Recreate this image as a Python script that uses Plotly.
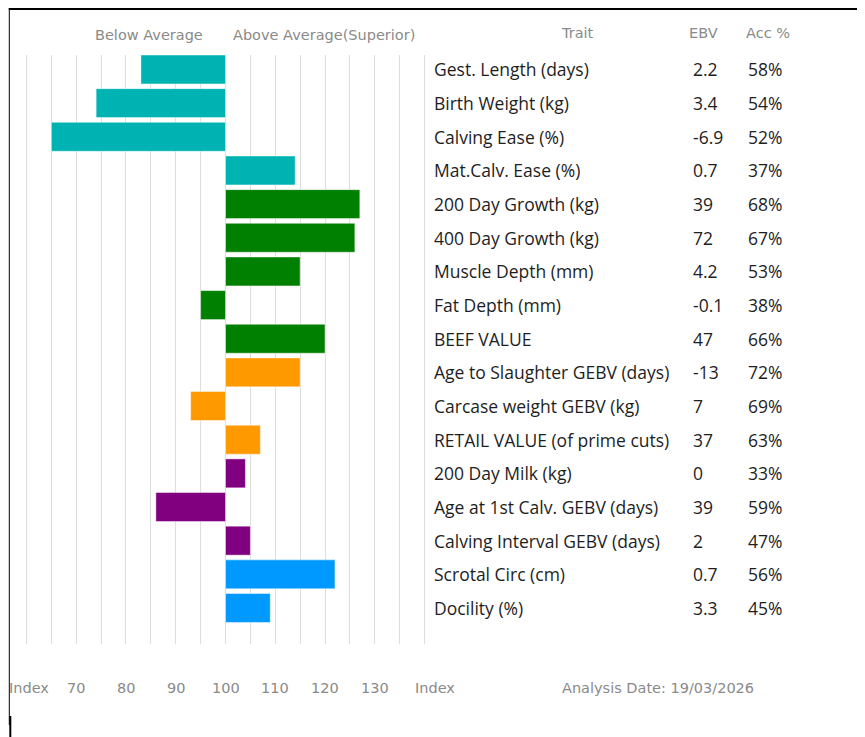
import plotly.graph_objects as go

traits = [
    "Gest. Length (days)", "Birth Weight (kg)", "Calving Ease (%)", "Mat.Calv. Ease (%)",
    "200 Day Growth (kg)", "400 Day Growth (kg)", "Muscle Depth (mm)", "Fat Depth (mm)",
    "BEEF VALUE", "Age to Slaughter GEBV (days)", "Carcase weight GEBV (kg)",
    "RETAIL VALUE (of prime cuts)", "200 Day Milk (kg)", "Age at 1st Calv. GEBV (days)",
    "Calving Interval GEBV (days)", "Scrotal Circ (cm)", "Docility (%)",
]
index_values = [83, 74, 65, 114, 127, 126, 115, 95, 120, 115, 93, 107, 104, 86, 105, 122, 109]
ebv = ["2.2", "3.4", "-6.9", "0.7", "39", "72", "4.2", "-0.1", "47", "-13", "7", "37", "0", "39", "2", "0.7", "3.3"]
acc = ["58%", "54%", "52%", "37%", "68%", "67%", "53%", "38%", "66%", "72%", "69%", "63%", "33%", "59%", "47%", "56%", "45%"]
groups = ["calving"] * 4 + ["growth"] * 5 + ["carcase"] * 3 + ["maternal"] * 3 + ["other"] * 2
group_colors = {"calving": "#00B3B3", "growth": "#008000", "carcase": "#FF9900",
                "maternal": "#800080", "other": "#0099FF"}
tick_labels = [70, 80, 90, 100, 110, 120, 130]
grid_ticks = list(range(60, 145, 5))
baseline = 100
analysis_date = "19/03/2026"

# page has an 8px body margin; figure sized to fill the rest of the window
OFF = 8
W, H = 857, 729
L, T, B = 16.2, 47, 93
PW = 403
R = W - L - PW
PH = H - T - B

def px_x(px):
    return (px - OFF - L) / PW

def px_y(py):
    return (H - B - (py - OFF)) / PH

fig = go.Figure()
fig.add_trace(go.Bar(
    y=traits,
    x=[v - baseline for v in index_values],
    base=baseline,
    orientation="h",
    marker=dict(color=[group_colors[g] for g in groups],
                line=dict(color="rgba(255,255,255,0.45)", width=1)),
    hoverinfo="skip",
))

grey = "#8a8a8a"
gfont = dict(family="DejaVu Sans, Verdana, sans-serif", size=14.5, color=grey)
tfont = dict(family="Open Sans, Lato, sans-serif", size=17.5, color="#1e1e1e")

ann = []
for t, e, a in zip(traits, ebv, acc):
    ann.append(dict(x=px_x(432), y=t, xref="paper", yref="y", text=t, showarrow=False,
                    xanchor="left", yanchor="middle", font=tfont))
    ann.append(dict(x=px_x(691), y=t, xref="paper", yref="y", text=e, showarrow=False,
                    xanchor="left", yanchor="middle", font=tfont))
    ann.append(dict(x=px_x(746), y=t, xref="paper", yref="y", text=a, showarrow=False,
                    xanchor="left", yanchor="middle", font=tfont))

for v in tick_labels:
    ann.append(dict(x=v, y=px_y(688), xref="x", yref="paper", text=str(v), showarrow=False,
                    xanchor="center", yanchor="middle", font=gfont))

headers = [
    (149.5, 35, "Below Average", "center"),
    (324, 35, "Above Average(Superior)", "center"),
    (578, 33, "Trait", "center"),
    (704, 33, "EBV", "center"),
    (768, 33, "Acc %", "center"),
    (7, 688, "Index", "left"),
    (413, 688, "Index", "left"),
    (560, 688, "Analysis Date: " + analysis_date, "left"),
]
for hx, hy, txt, anc in headers:
    ann.append(dict(x=px_x(hx), y=px_y(hy), xref="paper", yref="paper", text=txt,
                    showarrow=False, xanchor=anc, yanchor="middle", font=gfont))

shapes = [
    dict(type="line", xref="paper", yref="paper", x0=px_x(9), x1=px_x(870),
         y0=px_y(9), y1=px_y(9), line=dict(color="black", width=2)),
    dict(type="line", xref="paper", yref="paper", x0=px_x(9.5), x1=px_x(9.5),
         y0=px_y(8), y1=px_y(725), line=dict(color="black", width=1)),
    dict(type="line", xref="paper", yref="paper", x0=px_x(10.5), x1=px_x(10.5),
         y0=px_y(716), y1=px_y(740), line=dict(color="black", width=2)),
]

fig.update_layout(
    width=W, height=H,
    margin=dict(l=L, r=R, t=T, b=B, pad=0),
    paper_bgcolor="white", plot_bgcolor="white",
    showlegend=False,
    bargap=0.14,
    annotations=ann,
    shapes=shapes,
    xaxis=dict(range=[59.5, 140.5], tickvals=grid_ticks, showticklabels=False,
               showgrid=True, gridcolor="#dedede", gridwidth=1, zeroline=False,
               showline=False, ticks="", fixedrange=True),
    yaxis=dict(categoryorder="array", categoryarray=traits, range=[17.07, -0.43],
               showticklabels=False, showgrid=False, zeroline=False, showline=False,
               ticks="", fixedrange=True),
)

fig.write_html("out.html")
